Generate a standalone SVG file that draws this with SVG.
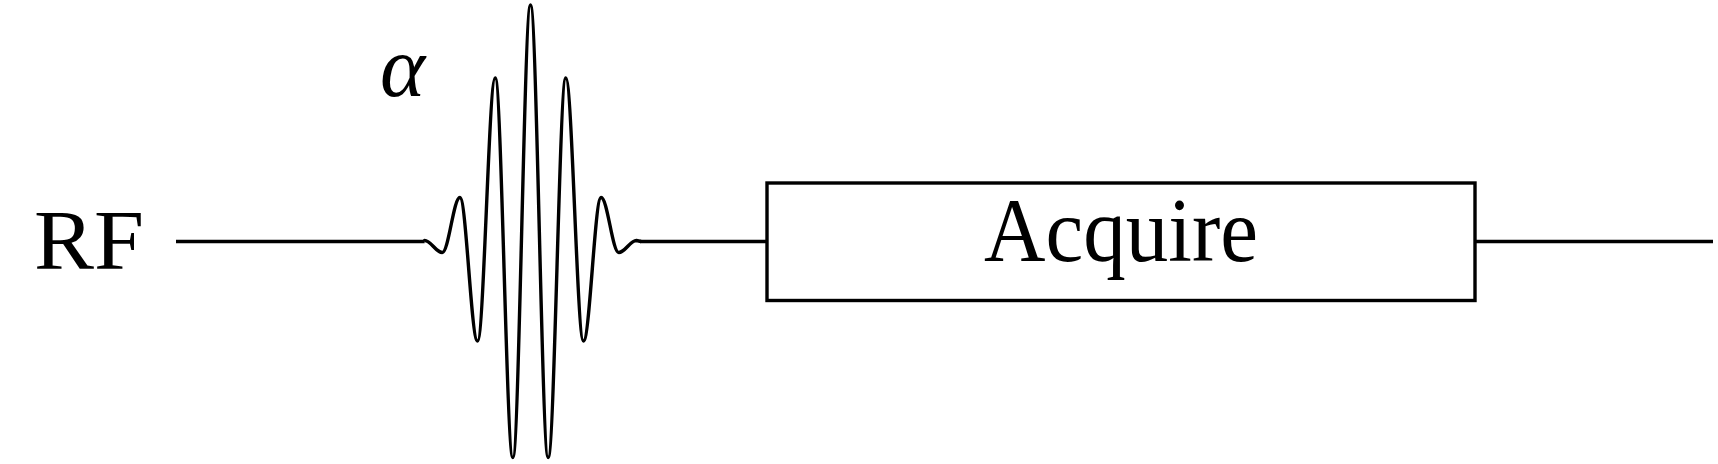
<svg xmlns="http://www.w3.org/2000/svg" width="1718" height="464" viewBox="0 0 1718 464">
<style>
.line{fill:none;stroke:#000;stroke-width:3.4;stroke-linejoin:round}
.box{fill:#fff;stroke:#000;stroke-width:3.4}
.lbl{font-family:"Liberation Serif","DejaVu Serif",serif;fill:#000}
</style>
<rect width="1718" height="464" fill="#fff"/>
<g id="connectors">
<path class="line" d="M176 241.5 H424.6"/>
<path class="line" d="M640 241.5 H767"/>
<path class="line" d="M1475 241.5 H1713"/>
</g>
<g id="rf-label">
<text class="lbl" x="34" y="269" font-size="85" textLength="110" lengthAdjust="spacingAndGlyphs">RF</text>
</g>
<g id="pulse">
<path class="line" d="M424 241.5 L424.6 240.5 C431.01 240.5 435.84 252.5 442.25 252.5 C448.66 252.5 453.49 197.5 459.9 197.5 C466.31 197.5 471.14 341 477.55 341 C483.96 341 488.79 78 495.2 78 C501.61 78 506.44 457.5 512.85 457.5 C519.26 457.5 524.09 5 530.5 5 C536.91 5 541.74 457.5 548.15 457.5 C554.56 457.5 559.39 78 565.8 78 C572.21 78 577.04 341 583.45 341 C589.86 341 594.69 197.5 601.1 197.5 C607.51 197.5 612.34 252.5 618.75 252.5 C625.16 252.5 629.99 240.5 636.4 240.5 L641 241.5"/>
<text class="lbl" x="380" y="96" font-size="86" font-style="italic">α</text>
</g>
<g id="acquire">
<rect class="box" x="767" y="183" width="708" height="117.5"/>
<text class="lbl" x="1121" y="261" font-size="90" text-anchor="middle" textLength="274" lengthAdjust="spacingAndGlyphs">Acquire</text>
</g>
</svg>
